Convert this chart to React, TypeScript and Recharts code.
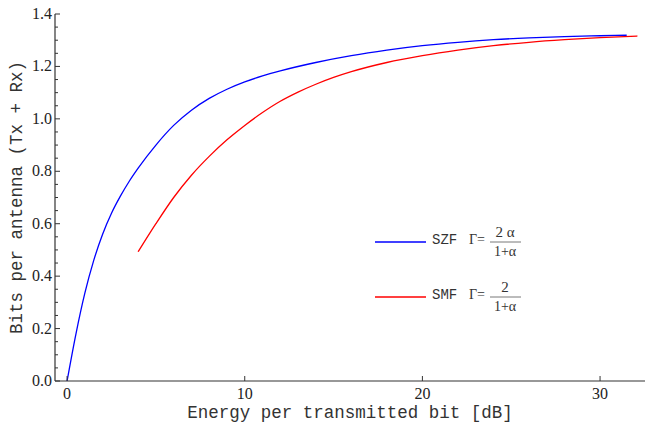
import { Line, LineChart, XAxis, YAxis } from 'recharts';

// SZF curve (blue)
const szfEnergy = [0, 0.5, 1, 1.5, 2, 2.5, 3, 3.5, 4, 5, 6, 7, 8, 9, 10, 11, 12, 14, 16, 18, 20, 22, 24, 26, 28, 30, 31.5];
const szfBits = [0, 0.18, 0.335, 0.46, 0.56, 0.64, 0.705, 0.762, 0.812, 0.9, 0.975, 1.033, 1.078, 1.113, 1.141, 1.164, 1.183, 1.215, 1.241, 1.262, 1.279, 1.292, 1.302, 1.309, 1.314, 1.317, 1.319];

// SMF curve (red)
const smfEnergy = [4, 5, 6, 7, 8, 9, 10, 11, 12, 13, 14, 15, 16, 18, 20, 22, 24, 26, 28, 30, 32.1];
const smfBits = [0.493, 0.6, 0.7, 0.785, 0.857, 0.92, 0.975, 1.024, 1.067, 1.102, 1.132, 1.158, 1.18, 1.215, 1.241, 1.262, 1.279, 1.292, 1.302, 1.31, 1.316];

const xTicks = [0, 10, 20, 30];
const yMajor = [0, 0.2, 0.4, 0.6, 0.8, 1.0, 1.2, 1.4];
const yTicks = [
  0, 0.05, 0.1, 0.15, 0.2, 0.25, 0.3, 0.35, 0.4, 0.45, 0.5, 0.55, 0.6, 0.65, 0.7,
  0.75, 0.8, 0.85, 0.9, 0.95, 1.0, 1.05, 1.1, 1.15, 1.2, 1.25, 1.3, 1.35, 1.4
];
// top frame: linear power ticks (1..1000), placed in dB
const topPowers = [1, 2, 3, 4, 5, 6, 7, 8, 9, 10, 20, 30, 40, 50, 60, 70, 80, 90, 100, 200, 300, 400, 500, 600, 700, 800, 900, 1000];
const topMajor = [1, 5, 10, 50, 100, 500, 1000];
const topTicks = topPowers.map((p) => 10 * Math.log10(p));

const legendItems = [
  { name: 'SZF', color: '#0000ff', num: '2 α', den: '1+α' },
  { name: 'SMF', color: '#ff0000', num: '2', den: '1+α' }
];

const szfData = szfEnergy.map((x, i) => ({ x, y: szfBits[i] }));
const smfData = smfEnergy.map((x, i) => ({ x, y: smfBits[i] }));

const serif = 'Liberation Serif, DejaVu Serif, serif';
const mono = 'Liberation Mono, Courier, DejaVu Sans Mono, monospace';
const frame = '#333';

function LeftTick(props: any) {
  const { x, y, payload } = props;
  const v = payload.value as number;
  const major = yMajor.some((m) => Math.abs(m - v) < 1e-6);
  return (
    <g>
      <line x1={x} x2={x + (major ? 5 : 3)} y1={y} y2={y} stroke={frame} strokeWidth={1} />
      {major && (
        <text x={x - 3} y={y + 5} textAnchor="end" fontFamily={serif} fontSize={16} fill="#222">
          {v.toFixed(1)}
        </text>
      )}
    </g>
  );
}

function BottomTick(props: any) {
  const { x, y, payload } = props;
  return (
    <g>
      <line x1={x} x2={x} y1={y} y2={y - 5} stroke={frame} strokeWidth={1} />
      <text x={x} y={y + 18} textAnchor="middle" fontFamily={serif} fontSize={16} fill="#222">
        {payload.value}
      </text>
    </g>
  );
}

function TopTick(props: any) {
  const { x, y, payload } = props;
  const major = topMajor.some((m) => Math.abs(10 * Math.log10(m) - payload.value) < 1e-6);
  return <line x1={x} x2={x} y1={y} y2={y + (major ? 4 : 2)} stroke="#666" strokeWidth={1} />;
}

export default function App() {
  return (
    <div style={{ position: 'fixed', left: 0, top: 0, width: 645, height: 429, background: '#fff' }}>
      <LineChart width={645} height={429} margin={{ top: 14, right: 0, bottom: 0, left: 0 }}>
        <XAxis
          xAxisId="bottom"
          dataKey="x"
          type="number"
          domain={[-0.68, 32.53]}
          allowDataOverflow
          ticks={xTicks}
          interval={0}
          height={48}
          tickSize={0}
          tickMargin={0}
          tickLine={false}
          tick={<BottomTick />}
          axisLine={{ stroke: frame, strokeWidth: 1.2 }}
          label={{
            content: (p: any) => {
              const vb = p.viewBox;
              return (
                <text x={vb.x + vb.width / 2} y={vb.y + 37} textAnchor="middle" fontFamily={mono} fontSize={17.5} fill="#333">
                  Energy per transmitted bit [dB]
                </text>
              );
            }
          }}
        />
        <XAxis
          xAxisId="top"
          orientation="top"
          type="number"
          domain={[-0.68, 32.53]}
          allowDataOverflow
          ticks={topTicks}
          interval={0}
          height={0}
          tickSize={0}
          tickMargin={0}
          tickLine={false}
          tick={<TopTick />}
          axisLine={{ stroke: '#666', strokeWidth: 1.2 }}
        />
        <YAxis
          type="number"
          domain={[0, 1.4]}
          ticks={yTicks}
          interval={0}
          width={55}
          tickSize={0}
          tickMargin={0}
          tickLine={false}
          tick={<LeftTick />}
          axisLine={{ stroke: frame, strokeWidth: 1.2 }}
          label={{
            content: (p: any) => {
              const vb = p.viewBox;
              const cx = 17;
              const cy = vb.y + vb.height / 2;
              return (
                <text
                  x={cx}
                  y={cy}
                  textAnchor="middle"
                  dominantBaseline="central"
                  transform={`rotate(-90 ${cx} ${cy})`}
                  fontFamily={mono}
                  fontSize={17.5}
                  fill="#333"
                >
                  Bits per antenna (Tx + Rx)
                </text>
              );
            }
          }}
        />
        <Line
          xAxisId="bottom"
          data={szfData}
          dataKey="y"
          type="monotone"
          stroke="#0000ff"
          strokeWidth={1.3}
          dot={false}
          isAnimationActive={false}
        />
        <Line
          xAxisId="bottom"
          data={smfData}
          dataKey="y"
          type="monotone"
          stroke="#ff0000"
          strokeWidth={1.3}
          dot={false}
          isAnimationActive={false}
        />
      </LineChart>
      <svg width={645} height={429} style={{ position: 'absolute', left: 0, top: 0, pointerEvents: 'none' }}>
        {legendItems.map((item, i) => {
          const cy = 242 + i * 55;
          return (
            <g key={item.name}>
              <line x1={375} x2={426} y1={cy} y2={cy} stroke={item.color} strokeWidth={1.3} />
              <text x={432} y={cy + 2} fontFamily={mono} fontSize={14} fill="#333">
                {item.name}
              </text>
              <text x={469} y={cy + 2} fontFamily={serif} fontSize={14} fill="#333">
                Γ=
              </text>
              <text x={505} y={cy - 5} textAnchor="middle" fontFamily={serif} fontSize={15} fill="#333">
                {item.num}
              </text>
              <line x1={490} x2={521} y1={cy} y2={cy} stroke="#555" strokeWidth={0.8} />
              <text x={505} y={cy + 14} textAnchor="middle" fontFamily={serif} fontSize={14} fill="#333">
                {item.den}
              </text>
            </g>
          );
        })}
      </svg>
    </div>
  );
}
